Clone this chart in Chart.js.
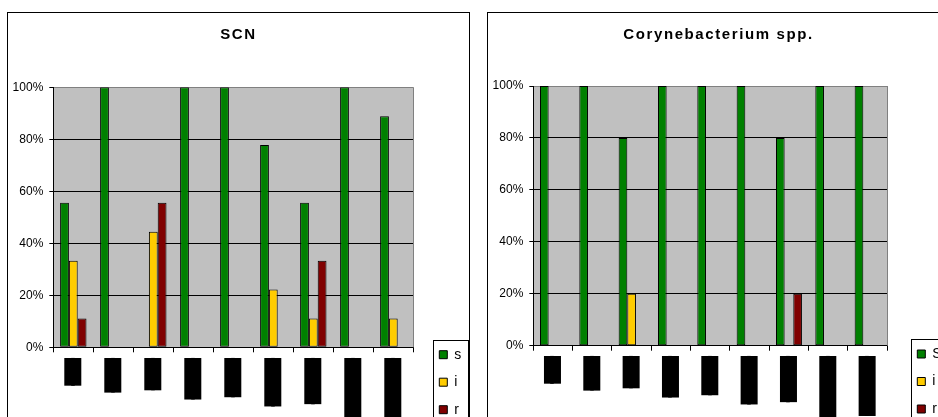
<!DOCTYPE html>
<html>
<head>
<meta charset="utf-8">
<script src="https://cdn.jsdelivr.net/npm/chart.js@4/dist/chart.umd.min.js"></script>
<style>
  html, body { margin: 0; padding: 0; background: #fff; overflow: hidden; width: 938px; height: 417px; }
  .panel { position: absolute; top: 12px; width: 461px; height: 440px; border: 1px solid #000; overflow: hidden; background: #fff; }
  #panel-scn { left: 7px; }
  #panel-cory { left: 487px; }
  canvas { display: block; }
</style>
</head>
<body>
<div class="panel" id="panel-scn"><canvas id="scn" width="461" height="440"></canvas></div>
<div class="panel" id="panel-cory"><canvas id="cory" width="461" height="440"></canvas></div>
<script>
// Category labels (blacked-out names), shared by both panels
const categories = [
  '████████████',
  '███████████████',
  '██████████████',
  '██████████████████',
  '█████████████████',
  '█████████████████████',
  '████████████████████',
  '███████████████████████████',
  '██████████████████████████'
];

// SCN: share of isolates per category (%)
const scnSusceptible   = [55.6, 100, 0, 100, 100, 77.8, 55.6, 100, 88.9];
const scnIntermediate  = [33.3, 0, 44.4, 0, 0, 22.2, 11.1, 0, 11.1];
const scnResistant     = [11.1, 0, 55.6, 0, 0, 0, 33.3, 0, 0];

// Corynebacterium spp.: share of isolates per category (%)
const corySusceptible  = [100, 100, 80, 100, 100, 100, 80, 100, 100];
const coryIntermediate = [0, 0, 20, 0, 0, 0, 0, 0, 0];
const coryResistant    = [0, 0, 0, 0, 0, 0, 20, 0, 0];

const scnSeriesNames  = ['s', 'i', 'r'];
const corySeriesNames = ['S', 'i', 'r'];
const seriesColors = ['#008000', '#FFCC00', '#800000'];

const FONT = "'Liberation Sans', Arial, sans-serif";

// Grey plot background, grey right frame edge and the boxed legend
const plotFrame = {
  id: 'plotFrame',
  beforeDraw(chart) {
    const a = chart.chartArea, ctx = chart.ctx;
    ctx.save();
    ctx.fillStyle = '#C0C0C0';
    ctx.fillRect(a.left, a.top, a.right - a.left, a.bottom - a.top);
    ctx.restore();
  },
  beforeDatasetsDraw(chart) {
    const a = chart.chartArea, ctx = chart.ctx;
    const x = Math.round(a.right - 0.5) + 0.5;
    ctx.save();
    ctx.strokeStyle = '#808080';
    ctx.lineWidth = 1;
    ctx.beginPath();
    ctx.moveTo(x, a.top);
    ctx.lineTo(x, a.bottom);
    ctx.stroke();
    ctx.restore();
  },
  afterDraw(chart) {
    const boxes = chart.legend && chart.legend.legendHitBoxes;
    if (!boxes || !boxes.length) return;
    const ctx = chart.ctx;
    const last = boxes[boxes.length - 1];
    const x = Math.round(boxes[0].left - 6.5) + 0.5;
    const y = Math.round(boxes[0].top - 8) + 0.5;
    const r = chart.width - 0.5;
    const b = last.top + last.height + 8;
    ctx.save();
    ctx.strokeStyle = '#000';
    ctx.lineWidth = 1;
    ctx.strokeRect(x, y, r - x, b - y);
    ctx.restore();
  }
};

// Spaced-out bold title lettering
const titleSpacing = {
  id: 'titleSpacing',
  afterInit(chart) {
    const block = chart.titleBlock;
    if (!block) return;
    const draw = block.draw;
    block.draw = function (...args) {
      const ctx = this.ctx;
      ctx.save();
      if ('letterSpacing' in ctx) ctx.letterSpacing = '1.6px';
      draw.apply(this, args);
      ctx.restore();
    };
  }
};

function buildPanel(canvasId, title, names, values, fit) {
  const datasets = names.map((name, i) => ({
    label: name,
    data: values[i],
    backgroundColor: seriesColors[i],
    borderColor: '#000',
    borderWidth: 1,
    borderSkipped: false
  }));

  return new Chart(document.getElementById(canvasId), {
    type: 'bar',
    data: { labels: categories, datasets },
    plugins: [plotFrame, titleSpacing],
    options: {
      responsive: false,
      animation: false,
      events: [],
      categoryPercentage: 0.66,
      barPercentage: 1,
      layout: { padding: { left: 0, right: 0, top: 0, bottom: fit.padBottom } },
      plugins: {
        title: {
          display: true,
          text: title,
          color: '#000',
          font: { family: FONT, size: 15, weight: 'bold', lineHeight: 1.2 },
          padding: { top: 13.3, bottom: fit.titleBottom }
        },
        legend: {
          position: 'right',
          align: 'end',
          maxWidth: fit.legendWidth,
          labels: {
            boxWidth: 8,
            boxHeight: 8,
            padding: 13.5,
            color: '#000',
            font: { family: FONT, size: 14 }
          }
        },
        tooltip: { enabled: false }
      },
      scales: {
        x: {
          offset: true,
          grid: { display: true, drawOnChartArea: false, offset: true, color: '#000', tickColor: '#000', tickLength: 5 },
          border: { display: true, color: '#000', width: 1 },
          ticks: {
            autoSkip: false,
            minRotation: 90,
            maxRotation: 90,
            padding: fit.labelPad,
            labelOffset: -9,
            color: '#000',
            font: { family: 'DejaVu Sans', size: 3, lineHeight: 17 / 3 },
            showLabelBackdrop: true,
            backdropColor: '#000',
            backdropPadding: 0
          },
          afterFit(scale) { scale.height = fit.axisHeight; }
        },
        y: {
          min: 0,
          max: 100,
          ticks: {
            stepSize: 20,
            padding: 6,
            color: '#000',
            font: { family: FONT, size: 12 },
            callback: (v) => v + '%'
          },
          grid: {
            color: (ctx) => (ctx.tick && ctx.tick.value === 100 ? '#808080' : '#000'),
            tickColor: '#000',
            tickLength: 4,
            lineWidth: 1
          },
          border: { display: true, color: '#000', width: 1 },
          afterFit(scale) { scale.width = fit.yAxisWidth; }
        },
        gap: {
          position: 'right',
          display: true,
          grid: { display: false },
          border: { display: false },
          ticks: { display: false },
          afterFit(scale) { scale.width = fit.spacer; }
        }
      }
    }
  });
}

buildPanel('scn', 'SCN', scnSeriesNames,
  [scnSusceptible, scnIntermediate, scnResistant],
  { padBottom: 22.8, titleBottom: 43, axisHeight: 82.9, labelPad: 5.7, legendWidth: 43.2, spacer: 12.5, yAxisWidth: 45.3 });

buildPanel('cory', 'Corynebacterium spp.', corySeriesNames,
  [corySusceptible, coryIntermediate, coryResistant],
  { padBottom: 23.5, titleBottom: 41.7, axisHeight: 83.8, labelPad: 5.3, legendWidth: 45.2, spacer: 16.5, yAxisWidth: 45.3 });
</script>
</body>
</html>
